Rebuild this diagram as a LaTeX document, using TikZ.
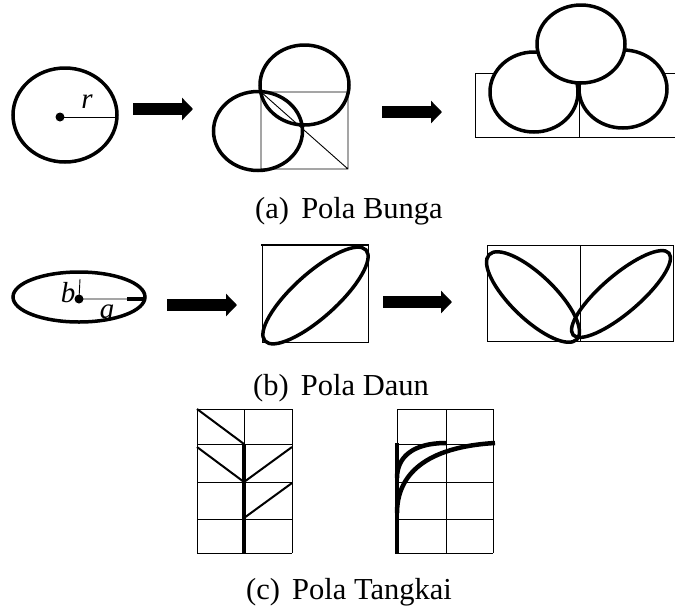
\documentclass[tikz,border=0pt]{standalone}
\usepackage{fontspec}
\setmainfont{Liberation Serif}
\usetikzlibrary{arrows.meta}

\begin{document}
\begin{tikzpicture}[x=1pt, y=-1pt,
    every node/.style={inner sep=0pt},
    bold/.style={line width=3.5pt},
    thin/.style={line width=0.9pt},
    bigarrow/.style={line width=12pt, -{Triangle[length=11pt,width=22pt]}},
    capt/.style={font=\fontsize{30.5}{36}\selectfont},
    lbl/.style={font=\fontsize{29}{33}\selectfont\itshape}]
  \useasboundingbox (0,0) rectangle (675,611);
  % (a) Pola Bunga
  \coordinate (c1) at (60,117);
  \draw[bold] (65,115) ellipse [x radius=52, y radius=47];
  \draw[thin] (c1) -- (117,117);
  \fill (c1) circle (4.5);
  \node[lbl] (r) at (87,102) {r};
  \draw[thin] (261,92) rectangle (348,169) (261,92) -- (348,169);
  \draw[bold] (258,131) ellipse [x radius=44.5, y radius=39.5];
  \draw[bold] (304.5,85) ellipse [x radius=44.5, y radius=40];
  \draw[thin] (475,73) rectangle (680,137) (579,73) -- (579,137);
  \draw[bold, fill=white] (534,92) ellipse [x radius=44, y radius=40];
  \draw[bold, fill=white] (623,89) ellipse [x radius=44, y radius=39];
  \draw[bold, fill=white] (581,44) ellipse [x radius=44, y radius=39];
  \coordinate (a1s) at (133,109); \coordinate (a1e) at (193,109);
  \coordinate (a2s) at (382,112); \coordinate (a2e) at (442,112);
  \draw[bigarrow] (a1s) -- (a1e);
  \draw[bigarrow] (a2s) -- (a2e);
  \node[capt] (capA) at (349,211) {(a)\hspace{0.4em}Pola Bunga};
  % (b) Pola Daun
  \coordinate (c2) at (79,299);
  \draw[bold] (79,297) ellipse [x radius=66, y radius=25];
  \draw[thin] (80,279) -- (c2) -- (145,299);
  \draw[bold] (127,299) -- (145,299);
  \fill (c2) circle (4.5);
  \node[lbl] (b) at (68,293) {b};
  \node[lbl] (a) at (107,312) {a};
  \draw[thin] (262,245) -- (262,342) -- (368,342) -- (368,245);
  \draw[line width=2pt] (261,245) -- (369,245);
  \draw[bold] (315.5,295.5) ellipse [x radius=68, y radius=22, rotate=42];
  \draw[thin] (487,245) rectangle (673,341) (580,245) -- (580,341);
  \draw[bold] (533,297) ellipse [x radius=61, y radius=22, rotate=-44];
  \draw[bold] (621,294) ellipse [x radius=63, y radius=19, rotate=40.5];
  \coordinate (a3s) at (167,305); \coordinate (a3e) at (237,305);
  \coordinate (a4s) at (383,302); \coordinate (a4e) at (452,302);
  \draw[bigarrow] (a3s) -- (a3e);
  \draw[bigarrow] (a4s) -- (a4e);
  \node[capt] (capB) at (341,388) {(b)\hspace{0.4em}Pola Daun};
  % (c) Pola Tangkai
  \foreach \xl/\xm/\xr in {197/244/292, 397/446/493} {
    \foreach \y in {409,444,482,519,553}
      \draw[thin] (\xl,\y) -- (\xr,\y);
    \foreach \x in {\xl,\xm,\xr}
      \draw[thin] (\x,409) -- (\x,553);
  }
  \draw[bold] (244,444) -- (244,554);
  \draw[line width=2pt] (197,409) -- (244,444)
    (197,447) -- (244,482) -- (292,447)
    (244,518) -- (292,483);
  \draw[bold] (397,443) -- (397,554);
  \draw[line width=4.5pt] (397,478) .. controls (397,457) and (413,443) .. (446,443);
  \draw[line width=4.5pt] (397,513) .. controls (397,475) and (425,447) .. (495,443);
  \node[capt] (capC) at (349,592) {(c)\hspace{0.4em}Pola Tangkai};
\end{tikzpicture}
\end{document}
